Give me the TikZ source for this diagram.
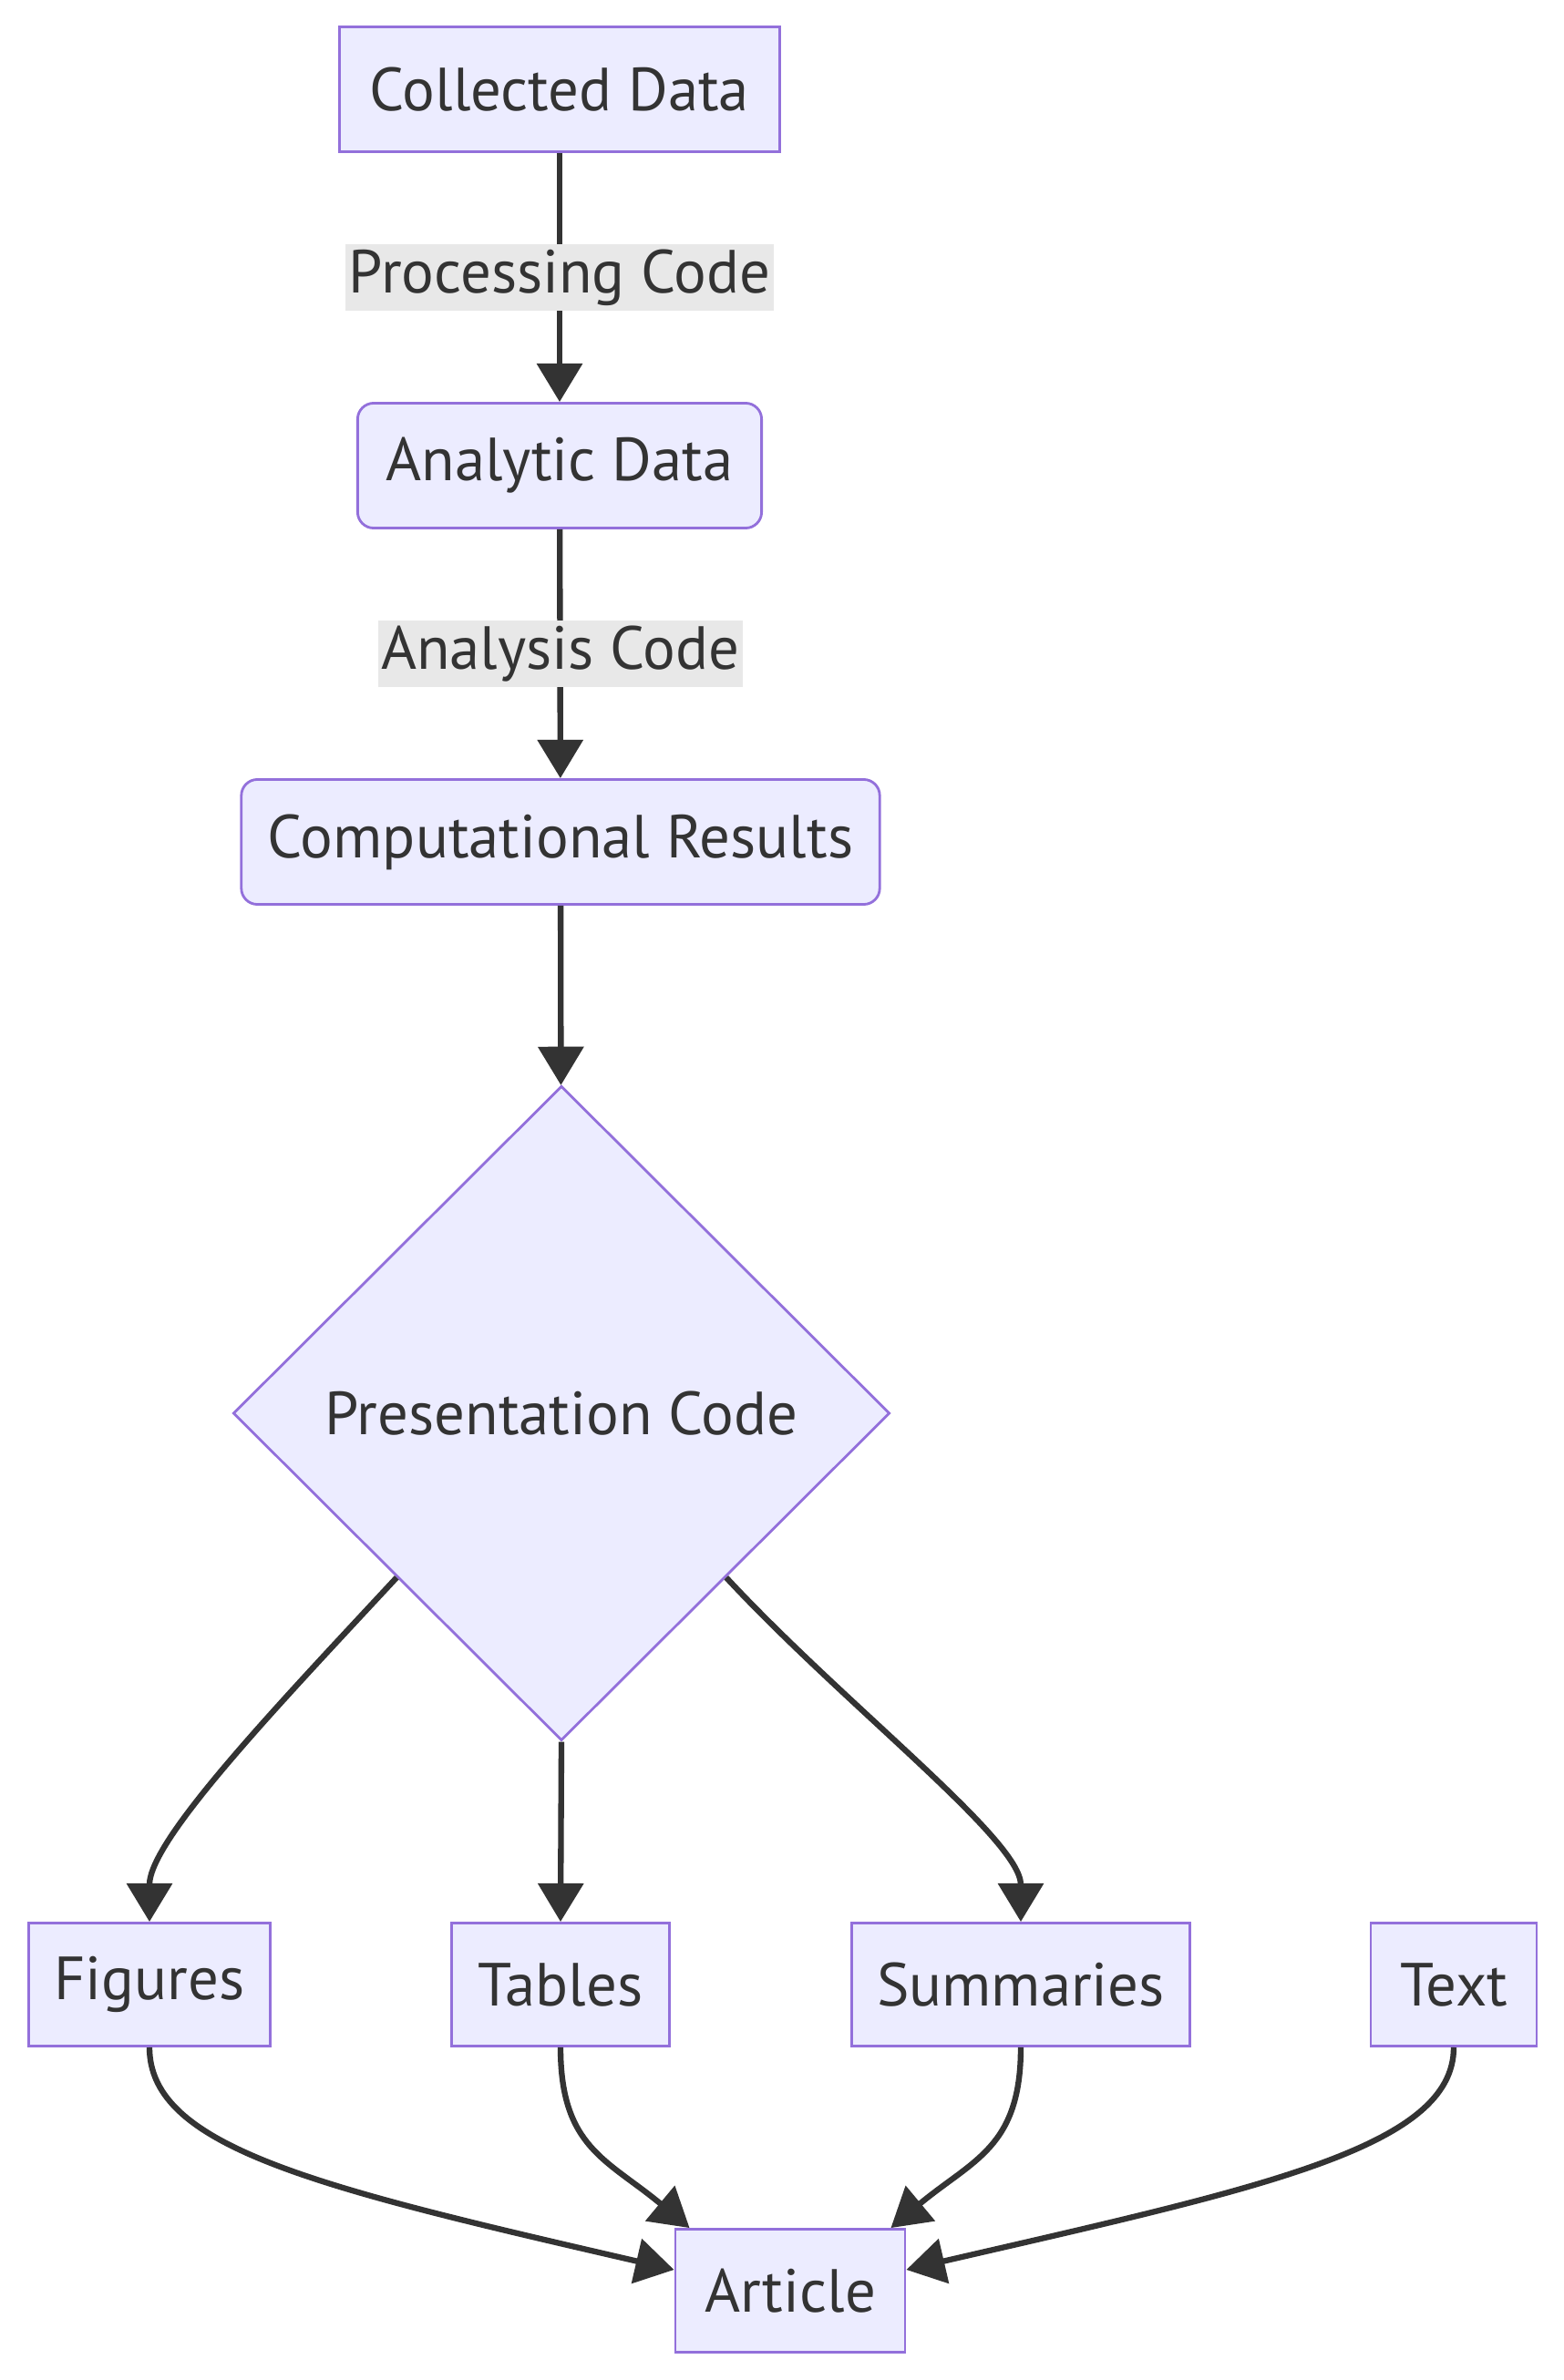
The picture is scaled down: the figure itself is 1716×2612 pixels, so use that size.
\documentclass[tikz,border=0pt]{standalone}
\usepackage{fontspec}
\setmainfont{PT Sans}
\usepackage{tikz}
\usetikzlibrary{shapes.geometric, arrows.meta, positioning}
\definecolor{FlowFill}{HTML}{ECECFF}
\definecolor{FlowPurple}{HTML}{9370DB}
\definecolor{FlowInk}{HTML}{333333}
\definecolor{FlowLabel}{HTML}{E8E8E8}
\tikzset{
    databox/.style={rectangle, minimum height=1.37cm, inner sep=0pt,
        text centered, draw=FlowPurple, fill=FlowFill, line width=0.8pt, text=FlowInk,
        font=\fontsize{19}{23}\selectfont},
    roundbox/.style={databox, rounded corners=5pt},
    codediamond/.style={databox, diamond, minimum width=7.2cm, minimum height=7.18cm},
    flowarrow/.style={-{Triangle[length=12pt, width=14pt]}, line width=1.8pt, draw=FlowInk},
    codelabel/.style={fill=FlowLabel, text=FlowInk, inner xsep=1pt, inner ysep=0pt,
        minimum height=0.73cm, font=\fontsize{19}{23}\selectfont},
}
\begin{document}
\begin{tikzpicture}[x=0.01cm, y=-0.01cm]
    \useasboundingbox (0,0) rectangle (1716,2612);

    \node[databox, minimum width=4.83cm] (collected) at (614,98) {Collected Data};
    \node[roundbox, minimum width=4.43cm] (analytic) at (614,511) {Analytic Data};
    \node[roundbox, minimum width=7.00cm] (results) at (615,924) {Computational Results};
    \node[codediamond] (present) at (616,1551) {Presentation Code};

    \node[databox, minimum width=2.65cm, minimum height=1.35cm] (figures) at (164,2178) {Figures};
    \node[databox, minimum width=2.39cm, minimum height=1.35cm] (tables) at (615,2178) {Tables};
    \node[databox, minimum width=3.70cm, minimum height=1.35cm] (summaries) at (1120,2178) {Summaries};
    \node[databox, minimum width=1.82cm, minimum height=1.35cm] (text) at (1595,2178) {Text};
    \node[databox, minimum width=2.52cm, minimum height=1.35cm] (article) at (867,2514) {Article};

    \draw[flowarrow] (collected) -- node[codelabel] {Processing Code} (analytic);
    \draw[flowarrow] (analytic) -- node[codelabel] {Analysis Code} (results);
    \draw[flowarrow] (results) -- (present);

    \draw[flowarrow] (present.south west) .. controls +(-130,140) and +(0,-90) .. (figures.north);
    \draw[flowarrow] (present.south) -- (tables.north);
    \draw[flowarrow] (present.south east) .. controls +(130,140) and +(0,-90) .. (summaries.north);

    \draw[flowarrow] (figures.south) .. controls +(0,110) and +(-390,-90) .. ([yshift=0.23cm]article.west);
    \draw[flowarrow] (tables.south) .. controls +(0,110) and +(-90,-75) .. ([xshift=0.17cm]article.north west);
    \draw[flowarrow] (summaries.south) .. controls +(0,110) and +(90,-75) .. ([xshift=-0.17cm]article.north east);
    \draw[flowarrow] (text.south) .. controls +(0,110) and +(390,-90) .. ([yshift=0.23cm]article.east);
\end{tikzpicture}
\end{document}
